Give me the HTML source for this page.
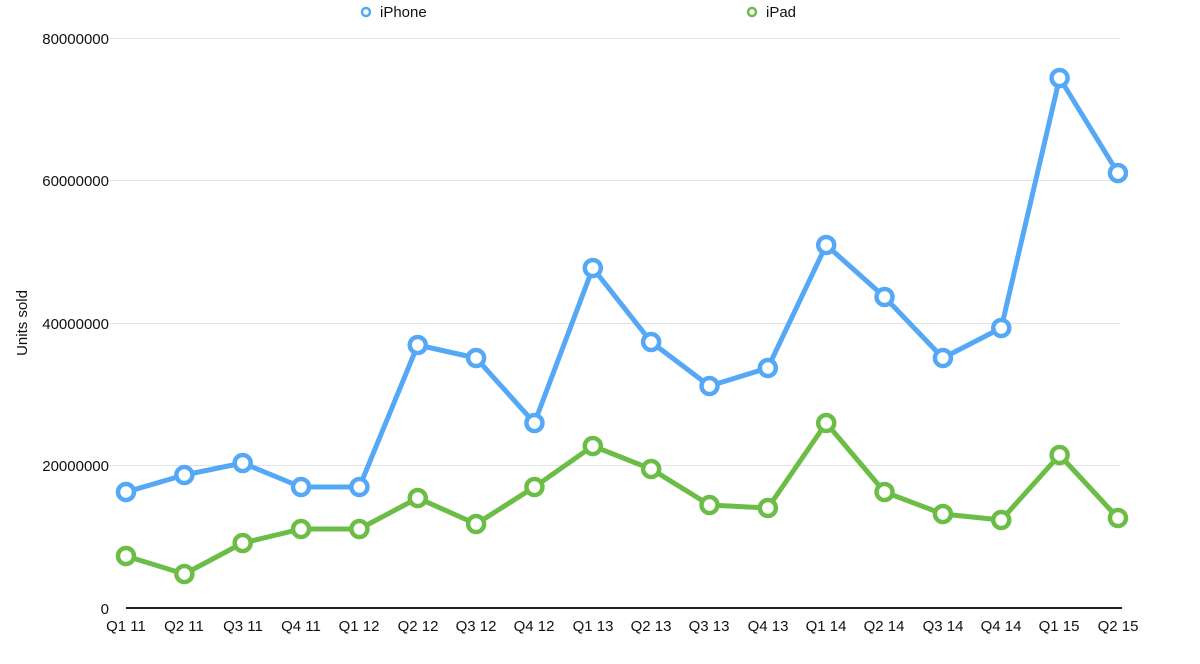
<!DOCTYPE html>
<html><head><meta charset="utf-8"><style>
html,body{margin:0;padding:0;background:#fff;}
svg{display:block;font-family:"Liberation Sans",sans-serif;}
</style></head><body>
<svg id="c" width="1200" height="664" viewBox="0 0 1200 664">
<g stroke="#e3e3e3" stroke-width="1">
<line x1="110" y1="38.5" x2="1120" y2="38.5"/>
<line x1="110" y1="180.5" x2="1120" y2="180.5"/>
<line x1="110" y1="323.5" x2="1120" y2="323.5"/>
<line x1="110" y1="465.5" x2="1120" y2="465.5"/>
</g>
<line x1="126" y1="608" x2="1122" y2="608" stroke="#222" stroke-width="2"/>
<g font-size="15" fill="#111" text-anchor="end">
<text x="109" y="44">80000000</text>
<text x="109" y="186">60000000</text>
<text x="109" y="329">40000000</text>
<text x="109" y="471">20000000</text>
<text x="109" y="614">0</text>
</g>
<text transform="translate(27,323) rotate(-90)" font-size="15" text-anchor="middle" fill="#111">Units sold</text>
<g font-size="15" fill="#111" text-anchor="middle">
<text x="126" y="631">Q1 11</text><text x="184" y="631">Q2 11</text><text x="243" y="631">Q3 11</text><text x="301" y="631">Q4 11</text>
<text x="359" y="631">Q1 12</text><text x="418" y="631">Q2 12</text><text x="476" y="631">Q3 12</text><text x="534" y="631">Q4 12</text>
<text x="593" y="631">Q1 13</text><text x="651" y="631">Q2 13</text><text x="709" y="631">Q3 13</text><text x="768" y="631">Q4 13</text>
<text x="826" y="631">Q1 14</text><text x="884" y="631">Q2 14</text><text x="943" y="631">Q3 14</text><text x="1001" y="631">Q4 14</text>
<text x="1059" y="631">Q1 15</text><text x="1118" y="631">Q2 15</text>
</g>
<circle cx="366" cy="12" r="4" fill="#fff" stroke="#55a8f5" stroke-width="2.5"/>
<text x="380" y="17" font-size="15" fill="#111">iPhone</text>
<circle cx="752" cy="12" r="4" fill="#fff" stroke="#6bbd45" stroke-width="2.5"/>
<text x="766" y="17" font-size="15" fill="#111">iPad</text>
<g id="series"></g>
</svg>
<script>
var ip=[492,475,463,487,487,345,358,423,268,342,386,368,245,297,358,328,78,173];
var pd=[556,574,543,529,529,498,524,487,446,469,505,508,423,492,514,520,455,518];
var g=document.getElementById('series'),ns='http://www.w3.org/2000/svg';
function draw(d,col){
  var pts=d.map(function(y,i){return (126+i*58.35)+','+y;}).join(' ');
  var p=document.createElementNS(ns,'polyline');
  p.setAttribute('points',pts);p.setAttribute('fill','none');p.setAttribute('stroke',col);
  p.setAttribute('stroke-width','5');p.setAttribute('stroke-linejoin','round');g.appendChild(p);
  d.forEach(function(y,i){var c=document.createElementNS(ns,'circle');
    c.setAttribute('cx',126+i*58.35);c.setAttribute('cy',y);c.setAttribute('r','8');
    c.setAttribute('fill','#fff');c.setAttribute('stroke',col);c.setAttribute('stroke-width','4.5');g.appendChild(c);});
}
draw(pd,'#6bbd45');draw(ip,'#55a8f5');
</script>
</body></html>
